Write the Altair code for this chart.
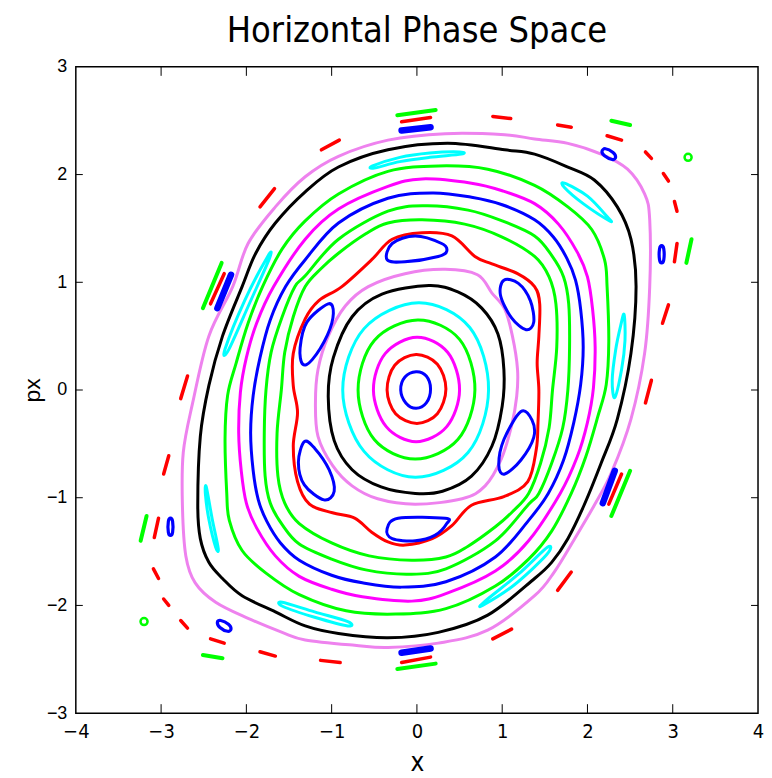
import altair as alt
import pandas as pd

# ---------------- closed invariant curves (x, px) ----------------
blue_core = [(0.16, 0.01), (0.11, 0.13), (-0.01, 0.17), (-0.14, 0.12), (-0.19, 0.0),
             (-0.13, -0.12), (-0.01, -0.17), (0.11, -0.12)]
red_core = [(0.34, 0.01), (0.24, 0.24), (-0.01, 0.33), (-0.26, 0.23), (-0.35, 0.0),
            (-0.25, -0.22), (0.0, -0.31), (0.24, -0.22)]
magenta_core = [(0.50, 0.0), (0.36, 0.35), (0.0, 0.49), (-0.37, 0.34), (-0.51, 0.0),
                (-0.36, -0.34), (-0.01, -0.48), (0.35, -0.34)]
green_core = [(0.68, 0.0), (0.50, 0.47), (0.01, 0.65), (-0.50, 0.46), (-0.69, 0.0),
              (-0.50, -0.46), (-0.02, -0.64), (0.48, -0.46)]
cyan_core = [(0.84, 0.0), (0.62, 0.58), (0.02, 0.81), (-0.62, 0.57), (-0.87, 0.0),
             (-0.62, -0.57), (-0.02, -0.81), (0.60, -0.58)]
black_core = [(0.14, 0.97), (0.48, 0.91), (0.76, 0.76), (0.95, 0.52), (1.02, 0.19), (1.00, -0.15),
              (0.88, -0.52), (0.64, -0.80), (0.30, -0.94), (-0.02, -0.96), (-0.42, -0.90),
              (-0.76, -0.74), (-0.97, -0.47), (-1.04, -0.06), (-0.98, 0.30), (-0.76, 0.68),
              (-0.41, 0.89)]
violet_inner = [(-0.57, 0.96), (-0.14, 1.08), (0.33, 1.12), (0.71, 1.07), (0.88, 0.90), (1.03, 0.75),
                (1.12, 0.50), (1.18, 0.19), (1.17, -0.06), (1.11, -0.33), (0.99, -0.64),
                (0.80, -0.89), (0.53, -1.01), (-0.02, -1.06), (-0.46, -1.01), (-0.76, -0.89),
                (-0.99, -0.70), (-1.16, -0.43), (-1.19, -0.12), (-1.16, 0.19), (-1.04, 0.50),
                (-0.84, 0.78)]
red_separatrix = [(0.06, 1.46), (0.41, 1.43), (0.68, 1.24), (0.88, 1.17), (1.18, 1.08), (1.38, 0.96),
                  (1.44, 0.80), (1.43, 0.50), (1.41, 0.25), (1.43, 0.0), (1.42, -0.30),
                  (1.40, -0.55), (1.30, -0.85), (1.02, -0.99), (0.64, -1.07), (0.41, -1.26),
                  (0.18, -1.38), (-0.14, -1.44), (-0.34, -1.41), (-0.53, -1.32), (-0.73, -1.19),
                  (-0.99, -1.14), (-1.26, -1.06), (-1.40, -0.85), (-1.45, -0.52), (-1.40, -0.21),
                  (-1.45, 0.04), (-1.45, 0.34), (-1.31, 0.66), (-1.15, 0.83), (-0.88, 0.96),
                  (-0.53, 1.21), (-0.29, 1.40)]
island6_top = [(-0.35, 1.21), (-0.29, 1.36), (-0.02, 1.43), (0.29, 1.36), (0.35, 1.29),
               (0.25, 1.24), (-0.14, 1.19)]
island6_upper_right = [(1.02, 1.02), (1.19, 0.99), (1.33, 0.83), (1.37, 0.63), (1.28, 0.56),
                       (1.11, 0.67), (0.98, 0.88)]
island6_lower_right = [(1.22, -0.20), (1.35, -0.28), (1.37, -0.44), (1.22, -0.65), (1.03, -0.78),
                       (0.96, -0.70), (1.02, -0.46)]
island6_bottom = [(-0.35, -1.29), (-0.22, -1.19), (0.33, -1.19), (0.35, -1.24), (0.21, -1.35),
                  (-0.02, -1.40), (-0.29, -1.38)]
island6_lower_left = [(-1.32, -0.48), (-1.20, -0.54), (-1.03, -0.74), (-0.97, -0.94),
                      (-1.09, -1.02), (-1.32, -0.88), (-1.39, -0.67)]
island6_upper_left = [(-1.04, 0.80), (-0.98, 0.71), (-1.05, 0.51), (-1.23, 0.28), (-1.34, 0.24),
                      (-1.37, 0.39), (-1.29, 0.63)]
green_ring1 = [(0.06, 1.58), (0.56, 1.54), (1.00, 1.42), (1.38, 1.24), (1.55, 1.05), (1.63, 0.80),
               (1.64, 0.40), (1.59, 0.0), (1.55, -0.35), (1.45, -0.68), (1.31, -0.96), (1.12, -1.13),
               (0.92, -1.27), (0.60, -1.45), (0.34, -1.55), (-0.06, -1.58), (-0.56, -1.54),
               (-1.00, -1.42), (-1.38, -1.24), (-1.55, -1.05), (-1.63, -0.80), (-1.64, -0.40),
               (-1.59, 0.0), (-1.55, 0.35), (-1.45, 0.68), (-1.31, 0.96), (-1.12, 1.13),
               (-0.92, 1.27), (-0.60, 1.45), (-0.34, 1.55)]
green_ring2 = [(0.10, 1.71), (0.60, 1.67), (1.00, 1.57), (1.38, 1.43), (1.58, 1.25), (1.72, 1.05),
               (1.78, 0.80), (1.79, 0.40), (1.77, 0.0), (1.71, -0.35), (1.58, -0.68), (1.43, -0.96),
               (1.31, -1.06), (0.92, -1.40), (0.34, -1.66), (-0.10, -1.71), (-0.60, -1.67),
               (-1.00, -1.57), (-1.38, -1.43), (-1.58, -1.25), (-1.72, -1.05), (-1.78, -0.80),
               (-1.79, -0.40), (-1.77, 0.0), (-1.71, 0.35), (-1.58, 0.68), (-1.43, 0.96),
               (-1.31, 1.06), (-0.92, 1.40), (-0.34, 1.66)]
blue_ring = [(0.18, 1.83), (0.64, 1.79), (1.00, 1.72), (1.38, 1.58), (1.60, 1.42), (1.76, 1.22),
             (1.86, 1.02), (1.92, 0.75), (1.95, 0.40), (1.92, 0.05), (1.84, -0.30), (1.72, -0.65),
             (1.54, -0.96), (1.31, -1.21), (0.92, -1.55), (0.34, -1.78), (-0.18, -1.83),
             (-0.64, -1.79), (-1.00, -1.72), (-1.38, -1.58), (-1.60, -1.42), (-1.76, -1.22),
             (-1.86, -1.02), (-1.92, -0.75), (-1.95, -0.40), (-1.92, -0.05), (-1.84, 0.30),
             (-1.72, 0.65), (-1.54, 0.96), (-1.31, 1.21), (-0.92, 1.55), (-0.34, 1.78)]
magenta_ring = [(0.06, 1.96), (0.64, 1.92), (1.00, 1.85), (1.38, 1.73), (1.66, 1.54), (1.88, 1.28),
                (2.00, 1.05), (2.06, 0.75), (2.09, 0.40), (2.07, 0.02), (2.00, -0.30),
                (1.88, -0.62), (1.68, -0.96), (1.31, -1.40), (0.92, -1.68), (0.34, -1.89),
                (-0.06, -1.96), (-0.64, -1.92), (-1.00, -1.85), (-1.38, -1.73), (-1.66, -1.54),
                (-1.88, -1.28), (-2.00, -1.05), (-2.06, -0.75), (-2.09, -0.40), (-2.07, -0.02),
                (-2.00, 0.30), (-1.88, 0.62), (-1.68, 0.96), (-1.31, 1.40), (-0.92, 1.68),
                (-0.34, 1.89)]
green_ring3 = [(0.25, 2.08), (0.83, 2.05), (1.38, 1.90), (1.77, 1.70), (2.05, 1.49), (2.20, 1.21),
               (2.23, 0.96), (2.25, 0.45), (2.22, 0.05), (2.12, -0.25), (1.98, -0.62),
               (1.81, -0.96), (1.58, -1.31), (1.31, -1.57), (0.92, -1.82), (0.34, -2.03),
               (-0.25, -2.08), (-0.83, -2.05), (-1.38, -1.90), (-1.77, -1.70), (-2.05, -1.49),
               (-2.20, -1.21), (-2.23, -0.96), (-2.25, -0.45), (-2.22, -0.05), (-2.12, 0.25),
               (-1.98, 0.62), (-1.81, 0.96), (-1.58, 1.31), (-1.31, 1.57), (-0.92, 1.82),
               (-0.34, 2.03)]
black_ring = [(-1.31, 1.84), (-0.92, 2.07), (-0.34, 2.23), (0.36, 2.29), (1.03, 2.23), (1.38, 2.19),
              (1.77, 2.07), (2.08, 1.95), (2.35, 1.70), (2.51, 1.40), (2.57, 0.96), (2.51, 0.34),
              (2.35, -0.27), (2.16, -0.68), (1.96, -1.07), (1.77, -1.38), (1.58, -1.60),
              (1.38, -1.75), (0.83, -2.09), (0.25, -2.25), (-0.34, -2.30), (-0.92, -2.26),
              (-1.31, -2.19), (-1.66, -2.06), (-2.05, -1.91), (-2.28, -1.75), (-2.44, -1.60),
              (-2.54, -1.38), (-2.57, -1.07), (-2.54, -0.43), (-2.44, 0.04), (-2.28, 0.50),
              (-2.05, 0.96), (-1.89, 1.27), (-1.66, 1.55)]
violet_ring = [(-1.31, 1.98), (-0.92, 2.17), (-0.34, 2.32), (0.33, 2.38), (1.03, 2.37), (1.38, 2.33),
               (1.77, 2.29), (2.16, 2.19), (2.47, 2.05), (2.67, 1.82), (2.73, 1.58), (2.73, 0.96),
               (2.67, 0.34), (2.51, -0.27), (2.28, -0.77), (2.08, -1.07), (1.85, -1.38),
               (1.61, -1.69), (1.38, -1.91), (0.83, -2.23), (0.25, -2.35), (-0.34, -2.39),
               (-0.73, -2.37), (-1.31, -2.32), (-1.58, -2.25), (-1.98, -2.12), (-2.36, -1.97),
               (-2.60, -1.79), (-2.71, -1.54), (-2.75, -1.07), (-2.74, -0.58), (-2.63, -0.12),
               (-2.44, 0.50), (-2.16, 0.96), (-1.98, 1.36), (-1.66, 1.70)]
cyan_isl_top = [(-0.52, 2.08), (-0.20, 2.16), (0.15, 2.20), (0.50, 2.21), (0.52, 2.19),
                (0.15, 2.16), (-0.20, 2.12), (-0.50, 2.06)]
cyan_isl_upper_right = [(1.73, 1.92), (2.00, 1.80), (2.23, 1.61), (2.26, 1.57), (1.95, 1.73),
                        (1.73, 1.88)]
cyan_isl_right = [(2.43, 0.70), (2.44, 0.46), (2.40, 0.19), (2.32, -0.07), (2.29, 0.09),
                  (2.33, 0.37), (2.39, 0.60)]
cyan_isl_lower_right = [(1.53, -1.46), (1.19, -1.71), (0.80, -1.96), (0.77, -2.00),
                        (1.14, -1.81), (1.52, -1.53)]
cyan_isl_bottom_left = [(-1.58, -1.97), (-1.20, -2.06), (-0.81, -2.15), (-0.81, -2.19),
                        (-1.20, -2.11), (-1.57, -2.01)]
cyan_isl_left = [(-2.47, -0.90), (-2.40, -1.20), (-2.33, -1.47), (-2.36, -1.46),
                 (-2.44, -1.20), (-2.48, -0.97)]
cyan_isl_upper_left = [(-2.25, 0.38), (-2.02, 0.83), (-1.75, 1.24), (-1.73, 1.22),
                       (-1.96, 0.81), (-2.21, 0.37)]
# small hollow blue islands of the outer chain
blue_oval_left = [(-2.89, -1.19), (-2.865, -1.22), (-2.865, -1.32), (-2.89, -1.35),
                  (-2.915, -1.32), (-2.915, -1.22)]
blue_oval_right = [(2.87, 1.34), (2.895, 1.31), (2.895, 1.21), (2.87, 1.18), (2.845, 1.21),
                   (2.845, 1.31)]
blue_oval_lower_left = [(-2.34, -2.155), (-2.30, -2.14), (-2.21, -2.175), (-2.18, -2.22),
                        (-2.22, -2.24), (-2.31, -2.205)]
blue_oval_upper_right = [(2.17, 2.215), (2.21, 2.24), (2.30, 2.205), (2.33, 2.16), (2.29, 2.14),
                         (2.20, 2.175)]

RED, GREEN, BLUE = "#ff0000", "#00ff00", "#0000ff"
MAGENTA, CYAN, BLACK, VIOLET = "#ff00ff", "#00ffff", "#000000", "#ee82ee"

closed_curves = [
    ("blue_core", BLUE, 3, blue_core), ("red_core", RED, 3, red_core),
    ("magenta_core", MAGENTA, 3, magenta_core), ("green_core", GREEN, 3, green_core),
    ("cyan_core", CYAN, 3, cyan_core), ("black_core", BLACK, 3, black_core),
    ("violet_inner", VIOLET, 3, violet_inner), ("red_separatrix", RED, 3, red_separatrix),
    ("i6_top", BLUE, 3, island6_top), ("i6_ur", BLUE, 3, island6_upper_right),
    ("i6_lr", BLUE, 3, island6_lower_right), ("i6_b", BLUE, 3, island6_bottom),
    ("i6_ll", BLUE, 3, island6_lower_left), ("i6_ul", BLUE, 3, island6_upper_left),
    ("green_ring1", GREEN, 3, green_ring1), ("green_ring2", GREEN, 3, green_ring2),
    ("blue_ring", BLUE, 3, blue_ring), ("magenta_ring", MAGENTA, 3, magenta_ring),
    ("green_ring3", GREEN, 3, green_ring3), ("black_ring", BLACK, 3, black_ring),
    ("violet_ring", VIOLET, 3, violet_ring),
    ("c_top", CYAN, 3, cyan_isl_top), ("c_ur", CYAN, 3, cyan_isl_upper_right),
    ("c_r", CYAN, 3, cyan_isl_right), ("c_lr", CYAN, 3, cyan_isl_lower_right),
    ("c_bl", CYAN, 3, cyan_isl_bottom_left), ("c_l", CYAN, 3, cyan_isl_left),
    ("c_ul", CYAN, 3, cyan_isl_upper_left),
    ("bo_l", BLUE, 3.2, blue_oval_left), ("bo_r", BLUE, 3.2, blue_oval_right),
    ("bo_ll", BLUE, 3.2, blue_oval_lower_left), ("bo_ur", BLUE, 3.2, blue_oval_upper_right),
]

# ---------------- outer chains: short dashes (start, end) ----------------
red_dashes = [
    [(-1.84, 1.70), (-1.67, 1.87)], [(-2.42, 0.80), (-2.26, 1.08)], [(-2.77, -0.08), (-2.69, 0.13)],
    [(-2.97, -0.78), (-2.91, -0.61)], [(-3.08, -1.37), (-3.03, -1.19)], [(-3.09, -1.66), (-3.03, -1.75)],
    [(-2.97, -1.94), (-2.91, -2.00)], [(-2.77, -2.14), (-2.69, -2.21)], [(-2.42, -2.31), (-2.26, -2.35)],
    [(-1.84, -2.43), (-1.66, -2.47)], [(-1.13, -2.51), (-0.90, -2.53)], [(-0.18, -2.53), (0.16, -2.48)],
    [(0.89, -2.31), (1.11, -2.22)], [(1.65, -1.86), (1.81, -1.69)], [(2.25, -1.06), (2.40, -0.78)],
    [(2.68, -0.12), (2.75, 0.09)], [(2.88, 0.62), (2.95, 0.79)], [(3.02, 1.19), (3.05, 1.36)],
    [(3.02, 1.75), (3.05, 1.66)], [(2.89, 2.01), (2.95, 1.94)], [(2.68, 2.21), (2.75, 2.15)],
    [(2.23, 2.36), (2.40, 2.32)], [(1.65, 2.46), (1.81, 2.44)], [(0.89, 2.54), (1.10, 2.52)],
    [(-0.18, 2.49), (0.16, 2.53)], [(-1.12, 2.23), (-0.91, 2.32)],
]
green_dashes = [
    [(-2.51, 0.76), (-2.29, 1.18)], [(-3.24, -1.40), (-3.17, -1.17)], [(-2.51, -2.46), (-2.28, -2.49)],
    [(-0.23, -2.59), (0.22, -2.54)], [(2.28, -1.17), (2.50, -0.75)], [(3.16, 1.18), (3.22, 1.40)],
    [(2.28, 2.50), (2.50, 2.46)], [(-0.23, 2.55), (0.22, 2.60)],
]
blue_dashes = [
    [(-2.34, 0.76), (-2.18, 1.07)], [(-0.18, -2.44), (0.16, -2.40)],
    [(2.18, -1.05), (2.32, -0.75)], [(-0.18, 2.41), (0.16, 2.44)],
]
green_rings_x = [3.18, -3.20]
green_rings_y = [2.16, -2.15]

tick_x = [-3, -2, -1, 0, 1, 2, 3]
tick_y = [-2, -1, 0, 1, 2]

# ---------------- tables ----------------
rows = []
for name, color, width, pts in closed_curves:
    for i, (x, y) in enumerate(pts):
        rows.append({"curve": name, "color": color, "w": width, "i": i, "x": x, "y": y})
df_closed = pd.DataFrame(rows)

rows = []
for color, width, group in [(RED, 3.5, red_dashes), (GREEN, 4, green_dashes), (BLUE, 6.5, blue_dashes)]:
    for k, seg in enumerate(group):
        for i, (x, y) in enumerate(seg):
            rows.append({"curve": f"{color}_{k}", "color": color, "w": width, "i": i, "x": x, "y": y})
df_dash = pd.DataFrame(rows)
df_circ = pd.DataFrame({"x": green_rings_x, "y": green_rings_y})
df_tx = pd.DataFrame({"t": tick_x})
df_ty = pd.DataFrame({"t": tick_y})

W, H = 684, 648
NARROW = "DejaVu Sans Condensed, Liberation Sans Narrow, sans-serif"
REG = "Liberation Sans, Arial, sans-serif"

xscale = alt.Scale(domain=[-4, 4], nice=False, zero=False)
yscale = alt.Scale(domain=[-3, 3], nice=False, zero=False)
xaxis = alt.Axis(values=list(range(-4, 5)), ticks=False, domain=False, grid=False,
                 labelFont=NARROW, labelFontSize=20, labelColor="black", labelPadding=8,
                 labelFlush=False, labelOverlap=False,
                 titleFont=NARROW, titleFontSize=26, titleFontWeight="normal", titleColor="black",
                 titlePadding=9)
yaxis = alt.Axis(values=list(range(-3, 4)), ticks=False, domain=False, grid=False,
                 labelFont=REG, labelFontSize=18, labelColor="black", labelPadding=9,
                 labelFlush=False, labelOverlap=False,
                 titleFont=REG, titleFontSize=23, titleFontWeight="normal", titleColor="black",
                 titlePadding=2)


def X(f):
    return alt.X(f"{f}:Q", scale=xscale, axis=xaxis, title="x")


def Y(f):
    return alt.Y(f"{f}:Q", scale=yscale, axis=yaxis, title="px")


closed = alt.Chart(df_closed).mark_line(interpolate="cardinal-closed").encode(
    x=X("x"), y=Y("y"), detail="curve:N", color=alt.Color("color:N", scale=None),
    strokeWidth=alt.StrokeWidth("w:Q", scale=None), order="i:Q")

dash = alt.Chart(df_dash).mark_line(strokeCap="round").encode(
    x=X("x"), y=Y("y"), detail="curve:N", color=alt.Color("color:N", scale=None),
    strokeWidth=alt.StrokeWidth("w:Q", scale=None), order="i:Q")

circ = alt.Chart(df_circ).mark_point(shape="circle", size=50, filled=False, strokeWidth=2.5,
                                     color=GREEN, opacity=1).encode(x=X("x"), y=Y("y"))

tb = alt.Chart(df_tx).mark_rule(color="black", strokeWidth=1).encode(
    x=X("t"), y=alt.value(H), y2=alt.value(H - 9))
tt = alt.Chart(df_tx).mark_rule(color="black", strokeWidth=1).encode(
    x=X("t"), y=alt.value(0), y2=alt.value(9))
tl = alt.Chart(df_ty).mark_rule(color="black", strokeWidth=1).encode(
    y=Y("t"), x=alt.value(0), x2=alt.value(7))
tr = alt.Chart(df_ty).mark_rule(color="black", strokeWidth=1).encode(
    y=Y("t"), x=alt.value(W), x2=alt.value(W - 7))

chart = alt.layer(closed, dash, circ, tb, tt, tl, tr).properties(
    width=W, height=H,
    autosize=alt.AutoSizeParams(type="none"),
    padding={"left": 68, "top": 58, "right": 6, "bottom": 62},
    title=alt.TitleParams("Horizontal Phase Space", font=NARROW, fontSize=36, fontWeight="normal",
                          color="black", anchor="middle", offset=8),
).configure_view(stroke="black", strokeWidth=1.5)

chart.save("out.html", embed_options={"renderer": "svg", "actions": False})
